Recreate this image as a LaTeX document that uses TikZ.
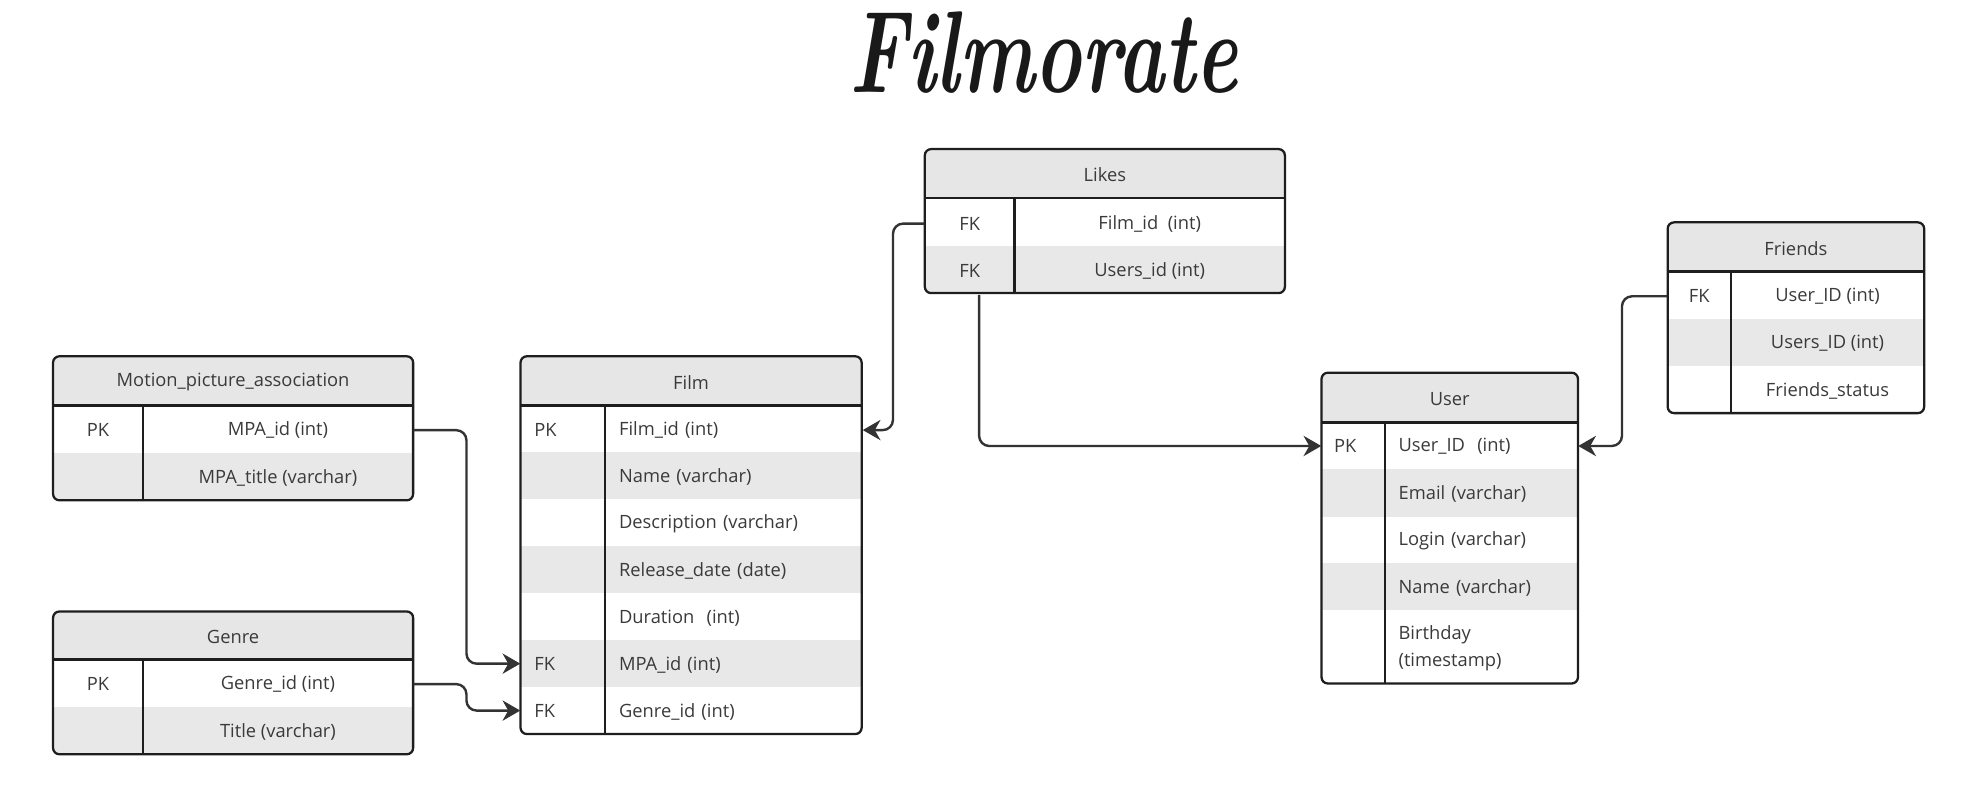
\documentclass[tikz,border=0pt]{standalone}
\usepackage{fontspec}
\usepackage{graphicx}
\setmainfont{Open Sans}
\usetikzlibrary{arrows.meta}
\definecolor{hdrfill}{HTML}{E6E6E6}
\definecolor{altfill}{HTML}{E8E8E8}
\definecolor{framec}{HTML}{1E1E1E}
\definecolor{connc}{HTML}{333333}
\definecolor{txtc}{HTML}{3A3A3A}
\newcommand\tfont{\fontsize{14.5}{17}\selectfont}
\tikzset{
  frame/.style={draw=framec, line width=1.8pt, rounded corners=5pt, inner sep=0pt, fill=none},
  rule/.style={draw=framec, line width=1.8pt},
  hdrtext/.style={inner sep=0pt, text=txtc, font=\tfont},
  ccell/.style={inner sep=0pt, text=txtc, font=\tfont, minimum height=#1},
  lcell/.style={inner xsep=11pt, inner ysep=0pt, text=txtc, font=\tfont, align=left, minimum height=#1},
  conn/.style={draw=connc, line width=1.9pt, rounded corners=8pt, -{Stealth[length=14pt,width=16pt,inset=4.5pt]}},
}
\begin{document}
\begin{tikzpicture}[x=1pt,y=-1pt]
\useasboundingbox (0,0) rectangle (1568,624);

% ---------- title
\node[anchor=base, inner sep=0pt, text=black!90] (title) at (826,73)
  {\resizebox{307pt}{64pt}{\fontfamily{lmr}\fontseries{bx}\fontshape{it}\selectfont Filmorate}};

% ---------- backgrounds
\begin{scope}
\clip[rounded corners=5pt] (732,118) rectangle (1017,232);
\fill[hdrfill] (732,118) rectangle (1017,157);
\fill[altfill] (732,195) rectangle (1017,232);
\end{scope}
\begin{scope}
\clip[rounded corners=5pt] (1320,176) rectangle (1523,327);
\fill[hdrfill] (1320,176) rectangle (1523,215);
\fill[altfill] (1320,252.33) rectangle (1523,289.67);
\end{scope}
\begin{scope}
\clip[rounded corners=5pt] (42,282) rectangle (327,396);
\fill[hdrfill] (42,282) rectangle (327,321);
\fill[altfill] (42,358.5) rectangle (327,396);
\end{scope}
\begin{scope}
\clip[rounded corners=5pt] (412,282) rectangle (682,581);
\fill[hdrfill] (412,282) rectangle (682,321);
\fill[altfill] (412,358.14) rectangle (682,395.29);
\fill[altfill] (412,432.43) rectangle (682,469.57);
\fill[altfill] (412,506.71) rectangle (682,543.86);
\end{scope}
\begin{scope}
\clip[rounded corners=5pt] (42,484) rectangle (327,597);
\fill[hdrfill] (42,484) rectangle (327,522);
\fill[altfill] (42,559.5) rectangle (327,597);
\end{scope}
\begin{scope}
\clip[rounded corners=5pt] (1046,295) rectangle (1249,541);
\fill[hdrfill] (1046,295) rectangle (1249,334.5);
\fill[altfill] (1046,371.5) rectangle (1249,409);
\fill[altfill] (1046,446) rectangle (1249,483);
\end{scope}

% ---------- Likes
\node[hdrtext] (likes-h) at (874.5,138.5) {Likes};
\node[ccell=37.5pt, minimum width=71pt] (likes-k1) at (767.5,177) {FK};
\node[ccell=37.5pt, minimum width=214pt] (likes-f1) at (910,177) {Film\_id\ \ (int)};
\node[ccell=37.5pt, minimum width=71pt] (likes-k2) at (767.5,214.5) {FK};
\node[ccell=37.5pt, minimum width=214pt] (likes-f2) at (910,214.5) {Users\_id (int)};
\draw[rule] (732,157) -- (1017,157);
\draw[rule] (803,157) -- (803,232);
\node[frame, minimum width=285pt, minimum height=114pt] (likes) at (874.5,175) {};

% ---------- Friends
\node[hdrtext] (friends-h) at (1421.5,196.5) {Friends};
\node[ccell=37.33pt, minimum width=50pt] (friends-k1) at (1345,234.5) {FK};
\node[ccell=37.33pt, minimum width=153pt] (friends-f1) at (1446.5,234.5) {User\_ID (int)};
\node[ccell=37.33pt, minimum width=50pt] (friends-k2) at (1345,271.8) {};
\node[ccell=37.33pt, minimum width=153pt] (friends-f2) at (1446.5,271.8) {Users\_ID (int)};
\node[ccell=37.33pt, minimum width=50pt] (friends-k3) at (1345,309.1) {};
\node[ccell=37.33pt, minimum width=153pt] (friends-f3) at (1446.5,309.1) {Friends\_status};
\draw[rule] (1320,215) -- (1523,215);
\draw[rule] (1370,215) -- (1370,327);
\node[frame, minimum width=203pt, minimum height=151pt] (friends) at (1421.5,251.5) {};

% ---------- Motion_picture_association
\node[hdrtext] (mpa-h) at (184.5,302.5) {Motion\_picture\_association};
\node[ccell=37.5pt, minimum width=71pt] (mpa-k1) at (77.5,340.5) {PK};
\node[ccell=37.5pt, minimum width=214pt] (mpa-f1) at (220,340.5) {MPA\_id (int)};
\node[ccell=37.5pt, minimum width=71pt] (mpa-k2) at (77.5,378) {};
\node[ccell=37.5pt, minimum width=214pt] (mpa-f2) at (220,378) {MPA\_title (varchar)};
\draw[rule] (42,321) -- (327,321);
\draw[rule] (113,321) -- (113,396);
\node[frame, minimum width=285pt, minimum height=114pt] (mpa) at (184.5,339) {};

% ---------- Film
\node[hdrtext] (film-h) at (547,302.5) {Film};
\node[lcell=37.14pt, text width=45pt] (film-k1) at (445.5,340.4) {PK};
\node[lcell=37.14pt, text width=181pt] (film-f1) at (580.5,340.4) {Film\_id (int)};
\node[lcell=37.14pt, text width=45pt] (film-k2) at (445.5,377.5) {};
\node[lcell=37.14pt, text width=181pt] (film-f2) at (580.5,377.5) {Name (varchar)};
\node[lcell=37.14pt, text width=45pt] (film-k3) at (445.5,414.7) {};
\node[lcell=37.14pt, text width=181pt] (film-f3) at (580.5,414.7) {Description (varchar)};
\node[lcell=37.14pt, text width=45pt] (film-k4) at (445.5,451.8) {};
\node[lcell=37.14pt, text width=181pt] (film-f4) at (580.5,451.8) {Release\_date (date)};
\node[lcell=37.14pt, text width=45pt] (film-k5) at (445.5,489) {};
\node[lcell=37.14pt, text width=181pt] (film-f5) at (580.5,489) {Duration\ \ (int)};
\node[lcell=37.14pt, text width=45pt] (film-k6) at (445.5,525.29) {FK};
\node[lcell=37.14pt, text width=181pt] (film-f6) at (580.5,526.1) {MPA\_id (int)};
\node[lcell=37.14pt, text width=45pt] (film-k7) at (445.5,562.43) {FK};
\node[lcell=37.14pt, text width=181pt] (film-f7) at (580.5,563.2) {Genre\_id (int)};
\draw[rule] (412,321) -- (682,321);
\draw[rule] (479,321) -- (479,581);
\node[frame, minimum width=270pt, minimum height=299pt] (film) at (547,431.5) {};

% ---------- Genre
\node[hdrtext] (genre-h) at (184.5,504) {Genre};
\node[ccell=37.5pt, minimum width=71pt] (genre-k1) at (77.5,541.5) {PK};
\node[ccell=37.5pt, minimum width=214pt] (genre-f1) at (220,541.5) {Genre\_id (int)};
\node[ccell=37.5pt, minimum width=71pt] (genre-k2) at (77.5,579) {};
\node[ccell=37.5pt, minimum width=214pt] (genre-f2) at (220,579) {Title (varchar)};
\draw[rule] (42,522) -- (327,522);
\draw[rule] (113,522) -- (113,597);
\node[frame, minimum width=285pt, minimum height=113pt] (genre) at (184.5,540.5) {};

% ---------- User
\node[hdrtext] (user-h) at (1147.5,315.5) {User};
\node[lcell=37pt, inner xsep=10pt, text width=30pt] (user-k1) at (1071,353) {PK};
\node[lcell=37pt, text width=131pt] (user-f1) at (1172.5,353) {User\_ID\ \ (int)};
\node[lcell=37.5pt, inner xsep=10pt, text width=30pt] (user-k2) at (1071,391) {};
\node[lcell=37.5pt, text width=131pt] (user-f2) at (1172.5,391) {Email (varchar)};
\node[lcell=37pt, inner xsep=10pt, text width=30pt] (user-k3) at (1071,428.3) {};
\node[lcell=37pt, text width=131pt] (user-f3) at (1172.5,428.3) {Login (varchar)};
\node[lcell=37pt, inner xsep=10pt, text width=30pt] (user-k4) at (1071,465.3) {};
\node[lcell=37pt, text width=131pt] (user-f4) at (1172.5,465.3) {Name (varchar)};
\node[lcell=58pt, inner xsep=10pt, text width=30pt] (user-k5) at (1071,512) {};
\node[lcell=58pt, text width=131pt, font=\fontsize{14.5}{21}\selectfont] (user-f5) at (1172.5,513) {Birthday\\(timestamp)};
\draw[rule] (1046,334.5) -- (1249,334.5);
\draw[rule] (1096,334.5) -- (1096,541);
\node[frame, minimum width=203pt, minimum height=246pt] (user) at (1147.5,418) {};

% ---------- connectors
\draw[conn] (likes-k1.west) -- ++(-25,0) |- (film.east |- film-k1);
\draw[conn] (mpa-f1.east) -- ++(42,0) |- (film-k6.west);
\draw[conn] (genre-f1.east) -- ++(42,0) |- (film-k7.west);
\draw[conn] ([xshift=7.5pt]likes-k2.south) |- (user-k1.west);
\draw[conn] (friends-k1.west) -- ++(-36,0) |- (user-f1.east);
\end{tikzpicture}
\end{document}
